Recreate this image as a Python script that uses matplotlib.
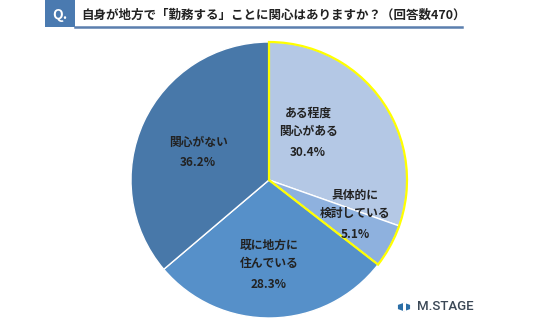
import matplotlib.pyplot as plt
import matplotlib as mpl
from matplotlib.patches import Wedge, Rectangle, RegularPolygon

mpl.rcParams['font.family'] = ['Noto Sans CJK JP', 'DejaVu Sans']

# 回答データ
labels = ['ある程度\n関心がある', '具体的に\n検討している', '既に地方に\n住んでいる', '関心がない']
shares = [30.4, 5.1, 28.3, 36.2]
colors = ['#B4C8E5', '#8EB1DE', '#5690C9', '#4878A9']
title = '自身が地方で「勤務する」ことに関心はありますか？（回答数470）'

W, H = 536, 323
fig = plt.figure(figsize=(W / 100, H / 100), dpi=100)

# タイトル部分
fig.patches.append(Rectangle((45 / W, 1 - 27 / H), 30 / W, 27 / H, transform=fig.transFigure,
                             facecolor='#4A7AB0', edgecolor='none'))
fig.lines.append(plt.Line2D([75 / W, 462 / W], [1 - 27 / H, 1 - 27 / H], transform=fig.transFigure,
                            color='#5B7FAE', lw=1.8))
fig.text(60 / W, 1 - 15 / H, 'Q.', color='white', fontsize=10, fontweight='bold', ha='center', va='center')
fig.text(81 / W, 1 - 15 / H, title, color='#222222', fontsize=9, fontweight='bold', ha='left', va='center')

# 円グラフ（中心と半径はピクセル）
cx, cy, r = 269, 180, 138
ax = fig.add_axes([(cx - r) / W, (H - cy - r) / H, 2 * r / W, 2 * r / H])
wedges, _ = ax.pie(shares, colors=colors, startangle=90, counterclock=False, radius=1,
                   wedgeprops=dict(edgecolor='white', linewidth=1))
ax.set_xlim(-1, 1)
ax.set_ylim(-1, 1)
ax.set_aspect('equal')
ax.axis('off')

# 関心ありの2項目を黄色で囲む
t_end = 90
t_start = 90 - (shares[0] + shares[1]) * 3.6
ax.add_patch(Wedge((0, 0), 1, t_start, t_end, facecolor='none', edgecolor='#FFFF00', lw=1.6,
                   zorder=5, clip_on=False))

# ラベル（1行目の中心位置, ピクセル）
label_px = [(308, 113), (355, 195), (269, 245), (198, 142)]
for lab, val, (px, py) in zip(labels, shares, label_px):
    lines = lab.split('\n')
    for i, line in enumerate(lines):
        ax.text((px - cx) / r, (cy - py - i * 18) / r, line, ha='center', va='center',
                fontsize=8.5, fontweight='bold', color='#222222', zorder=6)
    pct_y = py + (len(lines) - 1) * 18 + 21
    ax.text((px - cx) / r, (cy - pct_y) / r, f'{val}%', ha='center', va='center',
            fontsize=8.5, fontweight='bold', color='#222222', zorder=6)

# ロゴ
fig.patches.append(RegularPolygon((404 / W, 1 - 307 / H), 6, radius=7 / W, orientation=0,
                                  transform=fig.transFigure, facecolor='#2B6EA6', edgecolor='none'))
fig.patches.append(Rectangle((402.5 / W, 1 - 311 / H), 3 / W, 8 / H, transform=fig.transFigure,
                             facecolor='white', edgecolor='none'))
fig.text(417 / W, 1 - 307 / H, 'M.STAGE', color='#3B4856', fontsize=9.5, fontweight='medium',
         ha='left', va='center', family='Roboto')

fig.savefig('out.png', dpi=100)
